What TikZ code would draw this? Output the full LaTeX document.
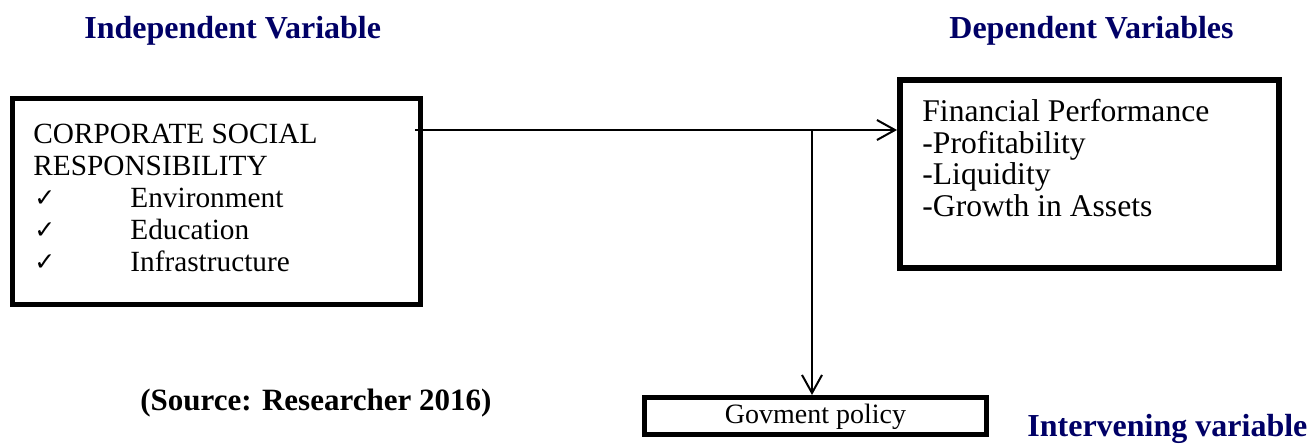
\documentclass[tikz,border=0pt]{standalone}
\usepackage{fontspec}
\setmainfont{Liberation Serif}
\newfontfamily\symfont{DejaVu Sans}
\usetikzlibrary{arrows.meta}
\definecolor{navy}{RGB}{0,0,102}
\begin{document}
\begin{tikzpicture}[x=0.5pt,y=-0.5pt,
  box/.style={draw, rectangle, line width=2.5pt, inner sep=0pt},
  body/.style={anchor=base west, inner sep=0pt, font=\fontsize{14.65}{17}\selectfont},
  fpbody/.style={anchor=base west, inner sep=0pt, font=\fontsize{15.8}{18}\selectfont},
  chk/.style={anchor=base west, inner sep=0pt, font=\symfont\fontsize{12.5}{14}\selectfont},
  head/.style={anchor=base west, inner sep=0pt, text=navy, font=\fontsize{16}{19}\selectfont\bfseries},
  conn/.style={line width=1pt},
  arr/.style={-{Straight Barb[length=9pt,width=10pt]}}
]
\useasboundingbox (0,0) rectangle (1309,444);

% headings
\node[head] (hind) at (84,39) {Independent Variable};
\node[head] (hdep) at (949,39) {Dependent Variables};
\node[head] (hint) at (1027,436) {Intervening variable};
\node[head, text=black, font=\fontsize{15.5}{18}\selectfont\bfseries] (src) at (140,410) {(Source: Researcher 2016)};

% boxes
\node[box, minimum width=204pt, minimum height=103pt] (csr) at (216.5,201.5) {};
\node[box, line width=3pt, minimum width=189.5pt, minimum height=94pt] (fp) at (1089.5,174) {};
\node[box, minimum width=171pt, minimum height=18.5pt] (gov) at (815.5,416) {};

% CSR text
\node[body] (t1) at (33,143) {CORPORATE SOCIAL};
\node[body] (t2) at (33,175) {RESPONSIBILITY};
\node[chk] (c1) at (34,206) {✓};
\node[body] (t3) at (130,207) {Environment};
\node[chk] (c2) at (34,238) {✓};
\node[body] (t4) at (130,239) {Education};
\node[chk] (c3) at (34,270) {✓};
\node[body] (t5) at (130,271) {Infrastructure};

% FP text
\node[fpbody] (f1) at (922,121) {Financial Performance};
\node[fpbody] (f2) at (922,153) {-Profitability};
\node[fpbody] (f3) at (922,184) {-Liquidity};
\node[fpbody] (f4) at (922,216) {-Growth in Assets};

% Gov text
\node[inner sep=0pt, font=\fontsize{14}{17}\selectfont] (g1) at (815.5,417) {Govment policy};

% connectors
\coordinate (j) at (812,130);
\draw[conn, arr] ([xshift=-4pt]csr.east |- j) -- (fp.west |- j);
\draw[conn, arr] (j) -- (gov.north -| j);
\end{tikzpicture}
\end{document}
